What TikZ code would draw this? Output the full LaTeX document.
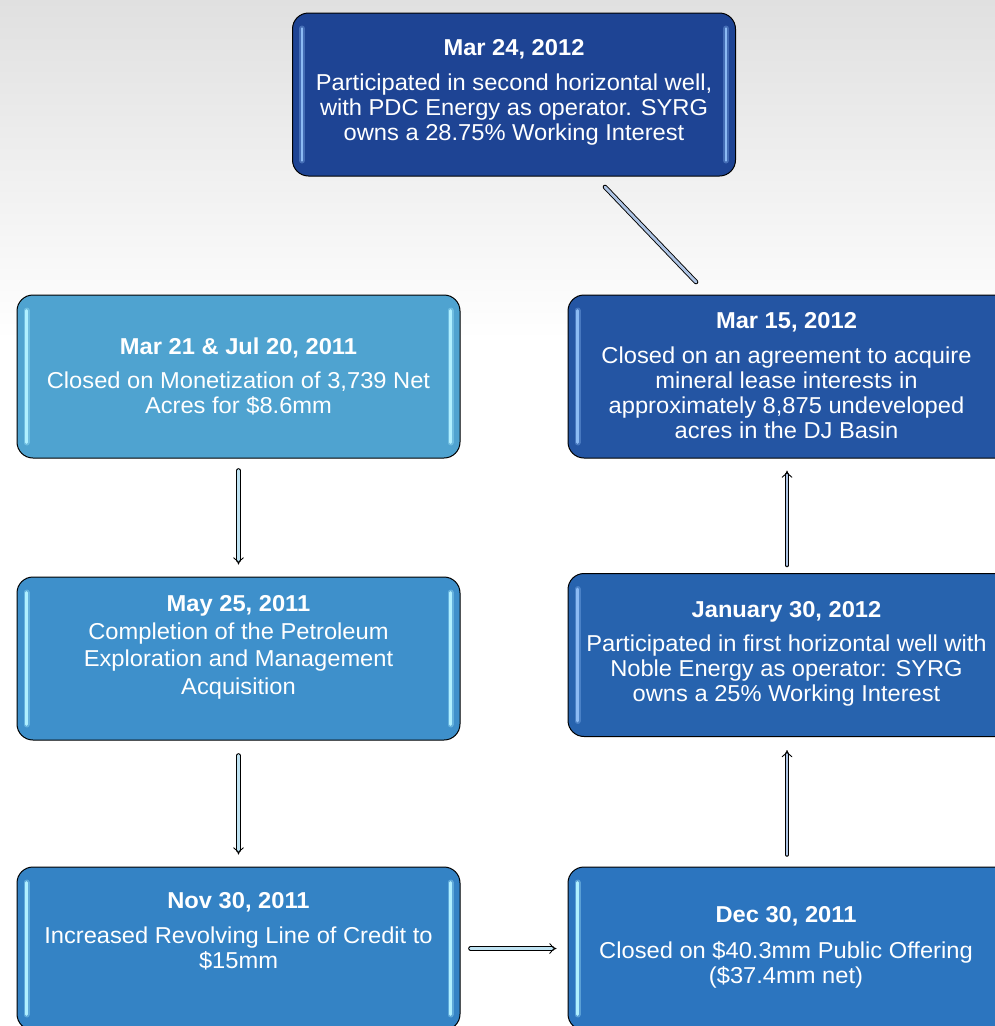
\documentclass[tikz,border=0pt]{standalone}
\usepackage{fontspec}
\setmainfont{Liberation Sans}[FakeStretch=1.03]
\usetikzlibrary{arrows.meta}
\definecolor{cTop}{HTML}{1E4494}
\definecolor{cRa}{HTML}{2455A3}
\definecolor{cRb}{HTML}{2763AE}
\definecolor{cRc}{HTML}{2C75BF}
\definecolor{cLa}{HTML}{4FA3D0}
\definecolor{cLb}{HTML}{3E90CB}
\definecolor{cLc}{HTML}{3483C5}
\definecolor{hlLight}{HTML}{B0F0FF}
\definecolor{hlDark}{HTML}{8CBBF4}
\definecolor{arrL}{HTML}{BFE3F2}
\definecolor{arrR}{HTML}{AEC4E4}
\definecolor{bgTop}{HTML}{E0E0E0}
\tikzset{
  tlbox/.style={draw=black, line width=1pt, rounded corners=16pt, fill=#1,
    minimum width=443pt, minimum height=163pt, inner sep=0pt},
  tltext/.style={text=white, align=center, inner sep=0pt,
    font=\fontsize{23}{25}\selectfont},
  glow/.style={draw=#1, line width=6pt, line cap=round, opacity=0.35},
  gloss/.style={draw=#1, line width=2.6pt, line cap=round},
  conn/.style={draw=black, line width=0.9pt, double=#1, double distance=2.8pt, line cap=round},
  connarr/.style={conn=#1, -{Implies}},
}
\newcommand{\myglossy}[2]{%
  \draw[glow=#2] ([xshift=10pt,yshift=-16pt]#1.north west) -- ([xshift=10pt,yshift=16pt]#1.south west);
  \draw[glow=#2] ([xshift=-10pt,yshift=-16pt]#1.north east) -- ([xshift=-10pt,yshift=16pt]#1.south east);
  \draw[gloss=#2] ([xshift=10pt,yshift=-16pt]#1.north west) -- ([xshift=10pt,yshift=16pt]#1.south west);
  \draw[gloss=#2] ([xshift=-10pt,yshift=-16pt]#1.north east) -- ([xshift=-10pt,yshift=16pt]#1.south east);
}
\begin{document}
\begin{tikzpicture}[x=1pt,y=-1pt]
\useasboundingbox (0,0) rectangle (995,1026);
\clip (0,0) rectangle (995,1026);
\fill[white] (0,0) rectangle (995,1026);
\shade[top color=bgTop, bottom color=white] (0,0) rectangle (995,340);

% boxes
\node[tlbox=cTop] (T) at (514,94.5) {};
\node[tlbox=cLa] (L1) at (238.5,376.5) {};
\node[tlbox=cLb] (L2) at (238.5,658.5) {};
\node[tlbox=cLc] (L3) at (238.5,948.5) {};
\node[tlbox=cRa] (R1) at (789.5,376.5) {};
\node[tlbox=cRb] (R2) at (789.5,655) {};
\node[tlbox=cRc] (R3) at (789.5,948.5) {};

\myglossy{T}{hlDark}
\myglossy{L1}{hlLight}
\myglossy{L2}{hlLight}
\myglossy{L3}{hlLight}
\myglossy{R1}{hlDark}
\myglossy{R2}{hlDark}
\myglossy{R3}{hlLight}

% texts
\node[tltext] (Tt) at ([yshift=2.5pt]T.center)
  {\textbf{Mar 24, 2012}\\[10pt]Participated in second horizontal well,\\with PDC Energy as operator. SYRG\\owns a 28.75\% Working Interest};
\node[tltext] (L1t) at (L1.center)
  {\textbf{Mar 21 \& Jul 20, 2011}\\[9pt]Closed on Monetization of 3,739 Net\\Acres for \$8.6mm};
\node[tltext, font=\fontsize{23}{27.5}\selectfont] (L2t) at ([yshift=11.5pt]L2.center)
  {\textbf{May 25, 2011}\\[0.5pt]Completion of the Petroleum\\Exploration and Management\\Acquisition};
\node[tltext] (L3t) at ([yshift=17.5pt]L3.center)
  {\textbf{Nov 30, 2011}\\[10pt]Increased Revolving Line of Credit to\\\$15mm};
\node[tltext] (R1t) at ([xshift=-3pt,yshift=1pt]R1.center)
  {\textbf{Mar 15, 2012}\\[10pt]Closed on an agreement to acquire\\mineral lease interests in\\approximately 8,875 undeveloped\\acres in the DJ Basin};
\node[tltext] (R2t) at ([xshift=-3pt,yshift=1pt]R2.center)
  {\textbf{January 30, 2012}\\[9pt]Participated in first horizontal well with\\Noble Energy as operator: SYRG\\owns a 25\% Working Interest};
\node[tltext] (R3t) at ([xshift=-3.5pt,yshift=1.5pt]R3.center)
  {\textbf{Dec 30, 2011}\\[11pt]Closed on \$40.3mm Public Offering\\(\$37.4mm net)};

% connectors
\coordinate (d1) at (605,187);
\coordinate (d2) at (696,282);
\draw[conn=arrR] (d1) -- (d2);
\draw[connarr=arrL] ([yshift=-12pt]L1.south) -- ([yshift=12pt]L2.north);
\draw[connarr=arrL] ([yshift=-15pt]L2.south) -- ([yshift=12pt]L3.north);
\draw[connarr=arrL] ([xshift=10pt]L3.east) -- ([xshift=-11pt]R3.west);
\draw[connarr=arrR] ([xshift=-2.5pt,yshift=12pt]R3.north) -- ([xshift=-2.5pt,yshift=-13pt]R2.south);
\draw[connarr=arrR] ([xshift=-2.5pt,yshift=8pt]R2.north) -- ([xshift=-2.5pt,yshift=-12pt]R1.south);
\end{tikzpicture}
\end{document}
